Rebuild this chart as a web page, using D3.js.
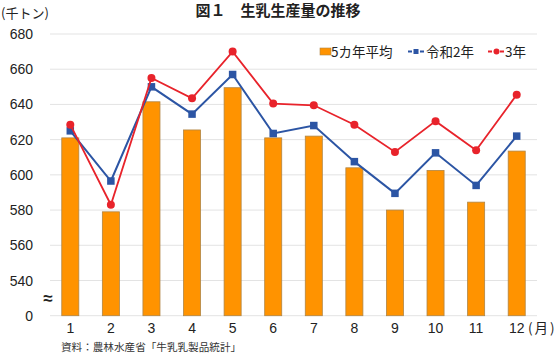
<!DOCTYPE html>
<html><head><meta charset="utf-8">
<script src="https://cdn.jsdelivr.net/npm/d3@7"></script>
<style>
html,body{margin:0;padding:0;background:#fff;}
text{font-family:"Noto Sans CJK JP","Noto Sans",sans-serif;}
</style></head>
<body>
<svg id="c" width="558" height="356"></svg>
<script>
const months = ["1","2","3","4","5","6","7","8","9","10","11","12"];
const avg5 = [621, 579, 641.5, 625.5, 649.5, 621, 622, 604, 580, 602.5, 584.5, 613.5];
const r2 = [625, 596.5, 650, 634.5, 657, 623.5, 628, 607.5, 589.5, 612.5, 594, 622];
const r3 = [628.5, 583, 655, 643.5, 670, 640.5, 639.5, 628.5, 613, 630.5, 614, 645.5];
const yTicks = [520, 540, 560, 580, 600, 620, 640, 660, 680];
const yTickLabels = ["0", "540", "560", "580", "600", "620", "640", "660", "680"];
const seriesNames = ["5カ年平均", "令和2年", "3年"];

const svg = d3.select("#c");
const x = d3.scaleBand().domain(months).range([50, 537]).paddingInner(0.58).paddingOuter(0.29);
const y = d3.scaleLinear().domain([520, 680]).range([315.7, 34]);
const numFont = '"Liberation Sans",Arial,sans-serif';

// gridlines
svg.append("g").selectAll("line").data(yTicks).join("line")
  .attr("x1", 50).attr("x2", 537)
  .attr("y1", d => y(d)).attr("y2", d => y(d))
  .attr("stroke", "#e3e3e3").attr("stroke-width", 1);

// y labels
svg.append("g").selectAll("text").data(yTicks).join("text")
  .attr("x", 33).attr("y", d => y(d)).attr("dy", "0.36em")
  .attr("text-anchor", "end").attr("font-size", 14).attr("fill", "#222")
  .style("font-family", numFont)
  .text((d, i) => yTickLabels[i]);

// break mark
svg.append("text").attr("x", 48).attr("y", 298).attr("dy", "0.35em")
  .attr("text-anchor", "middle").attr("font-size", 17).attr("font-weight", "bold").attr("fill", "#222")
  .style("font-family", numFont).text("≈");

// bars
svg.append("g").selectAll("rect").data(avg5).join("rect")
  .attr("x", (d, i) => x(months[i])).attr("width", x.bandwidth())
  .attr("y", d => y(d)).attr("height", d => y(520) - y(d))
  .attr("fill", "#FF9300").attr("stroke", "#B08545").attr("stroke-width", 0.8);

const cx = i => x(months[i]) + x.bandwidth() / 2;
const line = d3.line().x((d, i) => cx(i)).y(d => y(d));

// blue line
svg.append("path").datum(r2).attr("d", line).attr("fill", "none")
  .attr("stroke", "#2C55A4").attr("stroke-width", 2);
svg.append("g").selectAll("rect").data(r2).join("rect")
  .attr("x", (d, i) => cx(i) - 3.75).attr("y", d => y(d) - 3.75)
  .attr("width", 7.5).attr("height", 7.5).attr("fill", "#2C55A4");

// red line
svg.append("path").datum(r3).attr("d", line).attr("fill", "none")
  .attr("stroke", "#E8232B").attr("stroke-width", 1.8);
svg.append("g").selectAll("circle").data(r3).join("circle")
  .attr("cx", (d, i) => cx(i)).attr("cy", d => y(d)).attr("r", 4)
  .attr("fill", "#E8232B");

// x labels
svg.append("g").selectAll("text").data(months).join("text")
  .attr("x", d => x(d) + x.bandwidth() / 2).attr("y", 333)
  .attr("text-anchor", "middle").attr("font-size", 14).attr("fill", "#222")
  .style("font-family", numFont).text(d => d);
svg.append("text").attr("x", 528).attr("y", 333).attr("font-size", 13.5)
  .attr("letter-spacing", 2).attr("fill", "#222").text("(月)");

// title & unit
svg.append("text").attr("x", 278).attr("y", 16).attr("text-anchor", "middle")
  .attr("font-size", 15).attr("font-weight", "bold").attr("fill", "#222").text("図１　生乳生産量の推移");
svg.append("text").attr("x", 1).attr("y", 18).attr("font-size", 13).attr("fill", "#222").text("(千トン)");

// legend
const lg = svg.append("g").attr("font-size", 13.5).attr("fill", "#222");
lg.append("rect").attr("x", 320).attr("y", 48).attr("width", 11).attr("height", 7)
  .attr("fill", "#FF9300").attr("stroke", "#B08545").attr("stroke-width", 0.6);
lg.append("text").attr("x", 331).attr("y", 57).text(seriesNames[0]);
lg.append("line").attr("x1", 408).attr("x2", 425).attr("y1", 51.5).attr("y2", 51.5)
  .attr("stroke", "#2C55A4").attr("stroke-width", 2).attr("stroke-dasharray", "4,2");
lg.append("rect").attr("x", 413.5).attr("y", 49).attr("width", 5).attr("height", 5).attr("fill", "#2C55A4");
lg.append("text").attr("x", 426).attr("y", 57).text(seriesNames[1]);
lg.append("line").attr("x1", 488).attr("x2", 505).attr("y1", 51.5).attr("y2", 51.5)
  .attr("stroke", "#E8232B").attr("stroke-width", 1.8).attr("stroke-dasharray", "4,2");
lg.append("circle").attr("cx", 496.5).attr("cy", 51.5).attr("r", 3).attr("fill", "#E8232B");
lg.append("text").attr("x", 505).attr("y", 57).text(seriesNames[2]);

// source
svg.append("text").attr("x", 61).attr("y", 351).attr("font-size", 10.6).attr("fill", "#333")
  .text("資料：農林水産省「牛乳乳製品統計」");
</script>
</body></html>
